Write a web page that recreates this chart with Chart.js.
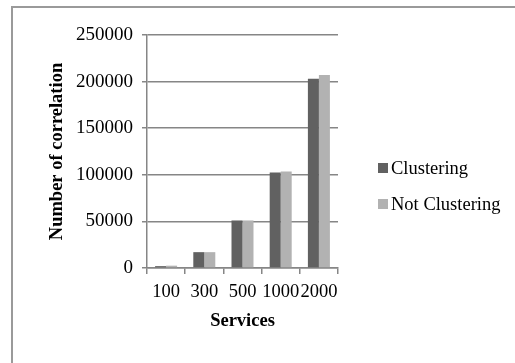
<!DOCTYPE html>
<html>
<head>
<meta charset="utf-8">
<script src="https://cdn.jsdelivr.net/npm/chart.js@4/dist/chart.umd.min.js"></script>
<style>
  html, body { margin: 0; padding: 0; background: #fff; overflow: hidden; }
  #wrap { position: relative; width: 515px; height: 363px; }
  #frame { position: absolute; left: 11px; top: 6px; width: 600px; height: 400px;
           border-left: 2px solid #9a9a9a; border-top: 2px solid #9a9a9a; }
  canvas { position: absolute; left: 0; top: 0; }
</style>
</head>
<body>
<div id="wrap">
  <div id="frame"></div>
  <canvas id="chart" width="515" height="363"></canvas>
</div>
<script>
// Number of service correlations, with and without clustering
const services = ['100', '300', '500', '1000', '2000'];
const clustering = [2000, 17000, 51000, 102500, 203000];
const notClustering = [2500, 17000, 51000, 103500, 207000];
const yTicks = [0, 50000, 100000, 150000, 200000, 250000];

const FONT = '"Liberation Serif", "Times New Roman", serif';
const GRID = '#868686';

// Legend drawn to the right of the plot, square swatch close to the label
const sideLegend = {
  id: 'sideLegend',
  afterDraw(chart) {
    const ctx = chart.ctx;
    const x0 = 378, y0 = 168, gap = 36, box = 10;
    ctx.save();
    ctx.font = '18.5px ' + FONT;
    ctx.textBaseline = 'middle';
    ctx.textAlign = 'left';
    chart.data.datasets.forEach((ds, i) => {
      const y = y0 + i * gap;
      ctx.fillStyle = ds.backgroundColor;
      ctx.fillRect(x0, y - box / 2, box, box);
      ctx.fillStyle = '#000';
      ctx.fillText(ds.label, x0 + box + 3, y + 1);
    });
    ctx.restore();
  }
};

new Chart(document.getElementById('chart'), {
  type: 'bar',
  data: {
    labels: services,
    datasets: [
      { label: 'Clustering', data: clustering, backgroundColor: '#616161' },
      { label: 'Not Clustering', data: notClustering, backgroundColor: '#b2b2b2' }
    ]
  },
  options: {
    responsive: false,
    animation: false,
    devicePixelRatio: 1,
    layout: { padding: { top: 35, right: 177, bottom: 0, left: 0 } },
    datasets: { bar: { categoryPercentage: 0.576, barPercentage: 1.0 } },
    plugins: { legend: { display: false }, tooltip: { enabled: false } },
    scales: {
      x: {
        offset: true,
        grid: { drawOnChartArea: false, drawTicks: true, tickLength: 6, color: GRID, lineWidth: 1.5 },
        border: { display: true, color: GRID, width: 1.5 },
        ticks: { color: '#000', font: { family: FONT, size: 18.5 }, padding: 7, maxRotation: 0, autoSkip: false },
        title: { display: true, text: 'Services', color: '#000',
                 font: { family: FONT, size: 18.5, weight: 'bold' }, padding: { top: 0, bottom: 31 } },
        afterFit(scale) { scale.height = 95; }
      },
      y: {
        min: 0, max: 250000,
        afterBuildTicks(scale) { scale.ticks = yTicks.map(v => ({ value: v })); },
        grid: { color: GRID, lineWidth: 1.5, drawTicks: true, tickLength: 5 },
        border: { display: true, color: GRID, width: 1.5 },
        ticks: { color: '#000', font: { family: FONT, size: 19 }, padding: 9,
                 callback: v => String(v) },
        title: { display: true, text: 'Number of correlation', color: '#000',
                 font: { family: FONT, size: 18.5, weight: 'bold' }, padding: { top: 46, bottom: 0 } },
        afterFit(scale) { scale.width = 147; }
      }
    }
  },
  plugins: [sideLegend]
});
</script>
</body>
</html>
